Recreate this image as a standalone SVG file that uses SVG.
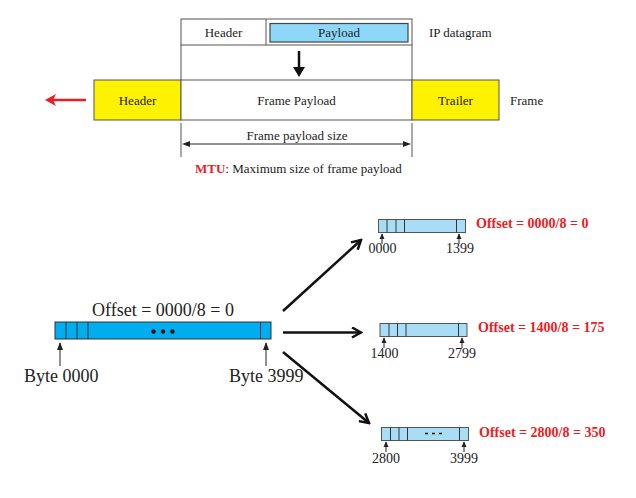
<svg xmlns="http://www.w3.org/2000/svg" width="636" height="498" viewBox="0 0 636 498">
<style>
.t{font-family:"Liberation Serif","Times New Roman",serif;fill:#222}
.s13{font-size:13px}
.s14{font-size:14px}
.s18{font-size:18px}
.red{font-family:"Liberation Serif","Times New Roman",serif;font-weight:bold;fill:#ED1C24;font-size:14px}
.box{stroke:#555;stroke-width:1;fill:none}
.yel{stroke:#555;stroke-width:1;fill:#FFF200}
.wht{stroke:#555;stroke-width:1;fill:#fff}
.bar{fill:#A9DDF5;stroke:#555;stroke-width:1}
.big{fill:#00AEEF;stroke:#333;stroke-width:1}
.div{stroke:#333;stroke-width:1}
.conn{stroke:#111;stroke-width:2.5;fill:none;marker-end:url(#chev)}
.thin{stroke:#222;stroke-width:1;fill:none}
</style>
<defs>
<marker id="chev" markerWidth="12" markerHeight="12" viewBox="0 0 12 12" refX="10" refY="6" orient="auto" markerUnits="userSpaceOnUse">
<path d="M1,1 L10,6 L1,11" fill="none" stroke="#111" stroke-width="2.5"/>
</marker>
<marker id="tri" markerWidth="8" markerHeight="8" viewBox="0 0 8 8" refX="7" refY="4" orient="auto" markerUnits="userSpaceOnUse">
<path d="M0,1 L8,4 L0,7 z" fill="#222"/>
</marker>
<marker id="tris" markerWidth="6" markerHeight="6" viewBox="0 0 8 8" refX="7" refY="4" orient="auto" markerUnits="userSpaceOnUse">
<path d="M0,0.5 L8,4 L0,7.5 z" fill="#222"/>
</marker>
</defs>

<g id="ip-datagram">
<rect x="181" y="19" width="231" height="26" class="wht"/>
<line x1="266" y1="19" x2="266" y2="45" class="box"/>
<rect x="270" y="23.5" width="138" height="18.5" fill="#8DD8F8" stroke="#444" stroke-width="1.2"/>
<text x="223.5" y="36.5" text-anchor="middle" class="t s13">Header</text>
<text x="339" y="36.5" text-anchor="middle" class="t s13">Payload</text>
<text x="429" y="37" class="t s13">IP datagram</text>
<line x1="181" y1="45" x2="181" y2="80" class="box"/>
<line x1="412" y1="45" x2="412" y2="80" class="box"/>
</g>

<g id="frame">
<rect x="94" y="80" width="87" height="40" class="yel"/>
<rect x="181" y="80" width="231" height="40" class="wht"/>
<rect x="412" y="80" width="87" height="40" class="yel"/>
<text x="137.5" y="104.5" text-anchor="middle" class="t s13">Header</text>
<text x="296.5" y="104.5" text-anchor="middle" class="t s13">Frame Payload</text>
<text x="455.5" y="104.5" text-anchor="middle" class="t s13">Trailer</text>
<text x="510" y="104.5" class="t s13">Frame</text>
</g>

<g id="frame-size">
<line x1="181" y1="123" x2="181" y2="157" class="box"/>
<line x1="412" y1="123" x2="412" y2="157" class="box"/>
<line x1="187" y1="144" x2="406" y2="144" class="thin"/>
<path d="M182,144 L190,141 L190,147 z" fill="#222"/>
<path d="M411,144 L403,141 L403,147 z" fill="#222"/>
<text x="297" y="140" text-anchor="middle" class="t s13">Frame payload size</text>
<text x="195" y="173" class="t s13"><tspan font-weight="bold" fill="#ED1C24">MTU</tspan>: Maximum size of frame payload</text>
</g>

<g id="original-datagram">
<rect x="55" y="322" width="216" height="17" class="big"/>
<line x1="66" y1="322" x2="66" y2="339" class="div"/>
<line x1="77" y1="322" x2="77" y2="339" class="div"/>
<line x1="88" y1="322" x2="88" y2="339" class="div"/>
<line x1="260.5" y1="322" x2="260.5" y2="339" class="div"/>
<circle cx="153.5" cy="331.5" r="2.2" fill="#111"/>
<circle cx="163" cy="331.5" r="2.2" fill="#111"/>
<circle cx="172.5" cy="331.5" r="2.2" fill="#111"/>
<text x="163" y="316" text-anchor="middle" class="t s18">Offset = 0000/8 = 0</text>
<line x1="60" y1="366" x2="60" y2="343" class="thin" marker-end="url(#tri)"/>
<line x1="266" y1="366" x2="266" y2="343" class="thin" marker-end="url(#tri)"/>
<text x="24" y="382" class="t s18">Byte 0000</text>
<text x="229" y="382" class="t s18">Byte 3999</text>
</g>

<g id="fragment-1">
<rect x="378.5" y="219.5" width="87" height="13" class="bar"/>
<line x1="387" y1="219.5" x2="387" y2="232.5" class="div"/>
<line x1="396" y1="219.5" x2="396" y2="232.5" class="div"/>
<line x1="404.5" y1="219.5" x2="404.5" y2="232.5" class="div"/>
<line x1="456.5" y1="219.5" x2="456.5" y2="232.5" class="div"/>
<line x1="382" y1="244" x2="382" y2="234" class="thin" marker-end="url(#tris)"/>
<line x1="459" y1="244" x2="459" y2="234" class="thin" marker-end="url(#tris)"/>
<text x="382.5" y="253" text-anchor="middle" class="t s14">0000</text>
<text x="460" y="253" text-anchor="middle" class="t s14">1399</text>
<text x="476" y="228" class="red">Offset = 0000/8 = 0</text>
</g>

<g id="fragment-2">
<rect x="380" y="323.5" width="87" height="13" class="bar"/>
<line x1="389" y1="323.5" x2="389" y2="336.5" class="div"/>
<line x1="397.5" y1="323.5" x2="397.5" y2="336.5" class="div"/>
<line x1="406" y1="323.5" x2="406" y2="336.5" class="div"/>
<line x1="458.5" y1="323.5" x2="458.5" y2="336.5" class="div"/>
<line x1="384" y1="348" x2="384" y2="338" class="thin" marker-end="url(#tris)"/>
<line x1="462" y1="348" x2="462" y2="338" class="thin" marker-end="url(#tris)"/>
<text x="384.5" y="358" text-anchor="middle" class="t s14">1400</text>
<text x="462" y="358" text-anchor="middle" class="t s14">2799</text>
<text x="478" y="332" class="red">Offset = 1400/8 = 175</text>
</g>

<g id="fragment-3">
<rect x="381.5" y="427.5" width="87" height="13" class="bar"/>
<line x1="390.5" y1="427.5" x2="390.5" y2="440.5" class="div"/>
<line x1="399" y1="427.5" x2="399" y2="440.5" class="div"/>
<line x1="407.5" y1="427.5" x2="407.5" y2="440.5" class="div"/>
<line x1="459.5" y1="427.5" x2="459.5" y2="440.5" class="div"/>
<line x1="425" y1="433.5" x2="442" y2="433.5" stroke="#111" stroke-width="1.5" stroke-dasharray="3,4"/>
<line x1="386" y1="452" x2="386" y2="442" class="thin" marker-end="url(#tris)"/>
<line x1="464" y1="452" x2="464" y2="442" class="thin" marker-end="url(#tris)"/>
<text x="386" y="463" text-anchor="middle" class="t s14">2800</text>
<text x="464" y="463" text-anchor="middle" class="t s14">3999</text>
<text x="479" y="437" class="red">Offset = 2800/8 = 350</text>
</g>

<g id="connectors">
<line x1="299" y1="51" x2="299" y2="70" stroke="#111" stroke-width="2.5"/>
<path d="M293,67 L305,67 L299,77 z" fill="#111"/>
<line x1="86" y1="100" x2="52" y2="100" stroke="#ED1C24" stroke-width="2.5"/>
<path d="M45,100 L56,94 L53,100 L56,106 z" fill="#ED1C24"/>
<line x1="283" y1="311" x2="361" y2="240" class="conn"/>
<line x1="283" y1="332.5" x2="361" y2="332.5" class="conn"/>
<line x1="283" y1="352" x2="369" y2="423" class="conn"/>
</g>
</svg>
